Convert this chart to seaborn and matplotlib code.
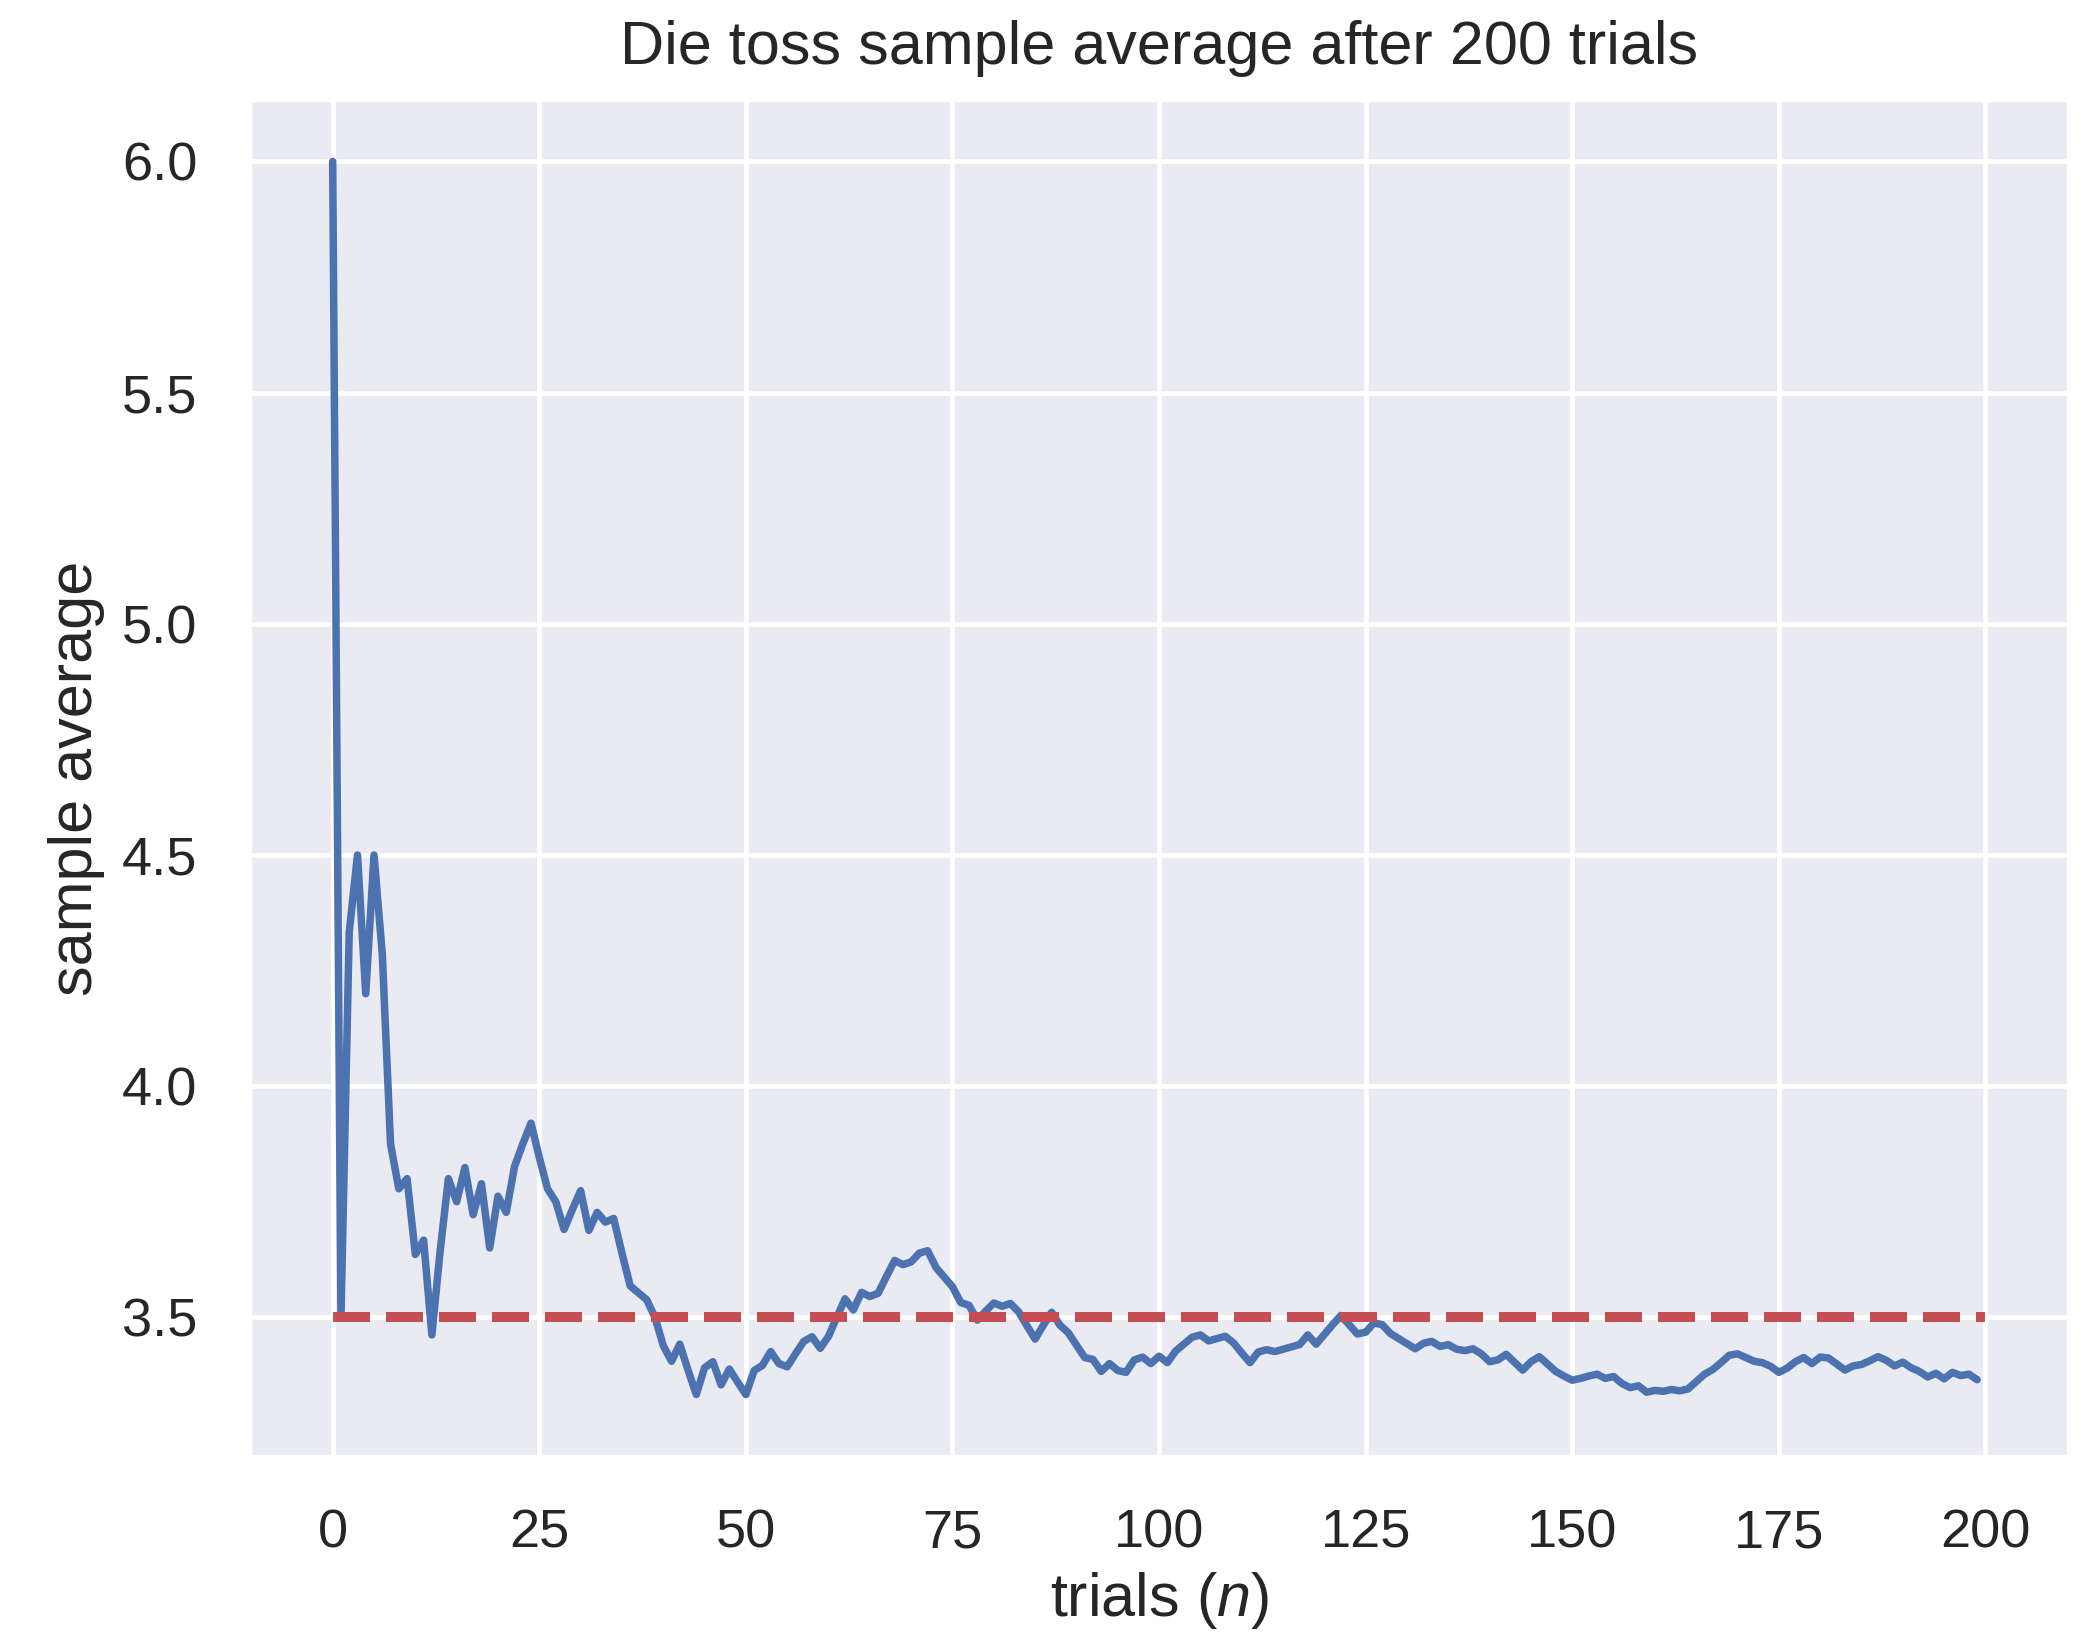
import numpy as np
import pandas as pd
import matplotlib
matplotlib.use("Agg")
import matplotlib.pyplot as plt
import seaborn as sns

# running average of the die, one value per trial
sample_avg = [
    6.0, 3.5, 4.333, 4.5, 4.2, 4.5, 4.286, 3.875, 3.778, 3.8,
    3.636, 3.667, 3.462, 3.643, 3.8, 3.75, 3.824, 3.722, 3.789, 3.65,
    3.762, 3.727, 3.826, 3.875, 3.92, 3.846, 3.778, 3.75, 3.69, 3.733,
    3.774, 3.688, 3.727, 3.706, 3.714, 3.639, 3.568, 3.553, 3.538, 3.5,
    3.439, 3.405, 3.442, 3.386, 3.333, 3.391, 3.404, 3.354, 3.388, 3.36,
    3.333, 3.385, 3.396, 3.426, 3.4, 3.393, 3.421, 3.448, 3.458, 3.433,
    3.459, 3.5, 3.54, 3.516, 3.554, 3.545, 3.552, 3.588, 3.623, 3.614,
    3.62, 3.639, 3.644, 3.608, 3.587, 3.566, 3.532, 3.526, 3.494, 3.513,
    3.531, 3.524, 3.53, 3.512, 3.482, 3.453, 3.483, 3.511, 3.483, 3.467,
    3.44, 3.413, 3.409, 3.383, 3.4, 3.385, 3.381, 3.408, 3.414, 3.4,
    3.416, 3.402, 3.427, 3.442, 3.457, 3.462, 3.449, 3.454, 3.459, 3.445,
    3.423, 3.402, 3.425, 3.43, 3.426, 3.431, 3.436, 3.441, 3.462, 3.442,
    3.463, 3.484, 3.504, 3.484, 3.464, 3.468, 3.488, 3.484, 3.465, 3.454,
    3.443, 3.432, 3.444, 3.448, 3.437, 3.441, 3.431, 3.428, 3.432, 3.421,
    3.404, 3.408, 3.42, 3.403, 3.386, 3.404, 3.415, 3.399, 3.383, 3.373,
    3.364, 3.368, 3.373, 3.377, 3.368, 3.372, 3.357, 3.348, 3.352, 3.338,
    3.342, 3.34, 3.344, 3.341, 3.345, 3.361, 3.377, 3.387, 3.402, 3.418,
    3.421, 3.413, 3.405, 3.402, 3.394, 3.381, 3.39, 3.404, 3.413, 3.4,
    3.414, 3.412, 3.399, 3.386, 3.395, 3.398, 3.406, 3.415, 3.407, 3.395,
    3.403, 3.391, 3.383, 3.371, 3.379, 3.367, 3.381, 3.374, 3.377, 3.365,
]
trials = list(range(len(sample_avg)))

# expected value of a fair die
expected_x = [0, 200]
expected_y = [3.5, 3.5]

x_ticks = [0, 25, 50, 75, 100, 125, 150, 175, 200]
y_ticks = [3.5, 4.0, 4.5, 5.0, 5.5, 6.0]

sns.set_theme(style="darkgrid")
plt.rcParams["font.family"] = ["Liberation Sans", "DejaVu Sans"]
plt.rcParams["mathtext.fontset"] = "custom"
plt.rcParams["mathtext.it"] = "Liberation Sans:italic"
plt.rcParams["mathtext.rm"] = "Liberation Sans"

df = pd.DataFrame({"trial": trials, "avg": sample_avg})
ref = pd.DataFrame({"trial": expected_x, "avg": expected_y})

fig = plt.figure(figsize=(10.445, 8.18), dpi=200)
ax = fig.add_axes([0.1197, 0.110, 0.8703, 0.8289])

sns.lineplot(data=df, x="trial", y="avg", ax=ax, color="#4C72B0", linewidth=2.7)
sns.lineplot(data=ref, x="trial", y="avg", ax=ax, color="#C44E52",
             linewidth=3.6, linestyle="--")

ax.set_xlim(-10, 210)
ax.set_ylim(3.2, 6.133)
ax.set_xticks(x_ticks)
ax.set_yticks(y_ticks)
ax.set_yticklabels([f"{v:.1f}" for v in y_ticks])
ax.tick_params(axis="both", length=0, pad=19, labelsize=19.5, colors="#262626")
ax.grid(color="white", linewidth=1.7)

ax.set_title("Die toss sample average after 200 trials", fontsize=22,
             color="#262626", pad=13)
ax.set_xlabel("trials ($n$)", fontsize=22, color="#262626", labelpad=4)
ax.set_ylabel("sample average", fontsize=22, color="#262626", labelpad=6)

fig.savefig("out.png", dpi=200)
